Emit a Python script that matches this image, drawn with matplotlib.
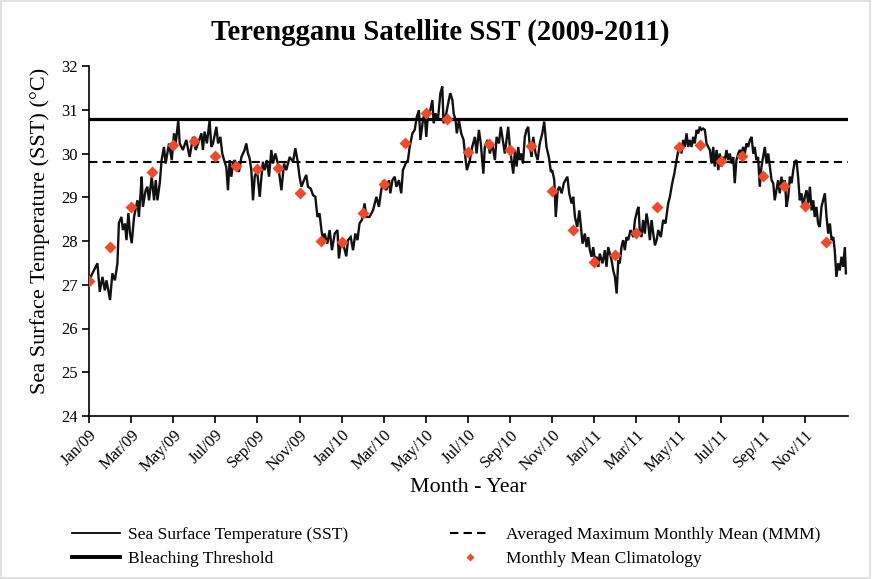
import matplotlib
matplotlib.use("Agg")
import matplotlib.pyplot as plt
from matplotlib.lines import Line2D
from matplotlib.patches import Rectangle

plt.rcParams['font.family'] = ['Liberation Serif', 'DejaVu Serif']

# ---------------- data ----------------
# time in months since Jan 2009 (0 = 1 Jan 2009)
sst_month = [
    0.00, 0.08, 0.40, 0.51, 0.64, 0.75, 0.83, 1.00, 1.11, 1.23, 1.35, 1.42, 1.54, 1.61, 1.71, 1.78,
    1.87, 1.95, 2.03, 2.14, 2.30, 2.37, 2.45, 2.50, 2.56, 2.69, 2.77, 2.85, 2.98, 3.09, 3.17, 3.25,
    3.36, 3.45, 3.56, 3.64, 3.80, 3.93, 4.04, 4.12, 4.24,
    4.31, 4.46, 4.62, 4.78, 4.94, 5.07, 5.18, 5.34, 5.41, 5.49, 5.60, 5.73, 5.81, 5.89, 6.05, 6.13,
    6.24, 6.33, 6.44, 6.52, 6.60, 6.68, 6.76, 6.84, 6.92, 7.00, 7.12, 7.24, 7.39, 7.47, 7.55, 7.63,
    7.71, 7.79, 7.87, 7.98, 8.11, 8.19, 8.26, 8.34, 8.45, 8.55, 8.66, 8.74, 8.85, 8.97,
    9.14, 9.26, 9.37, 9.53, 9.69, 9.80, 9.90, 10.00, 10.09, 10.21, 10.32, 10.40, 10.53, 10.64, 10.75,
    10.85, 10.95, 11.04, 11.11, 11.19, 11.32, 11.43, 11.54, 11.67, 11.80, 11.87, 11.98, 12.11, 12.22,
    12.30, 12.43, 12.54, 12.65, 12.75, 12.85, 12.96, 13.09, 13.17,
    13.32, 13.49, 13.65, 13.77, 13.88, 13.99, 14.12, 14.25, 14.31, 14.41, 14.52, 14.60, 14.72, 14.83,
    14.91, 15.04, 15.15, 15.23, 15.36, 15.47, 15.57, 15.67, 15.74, 15.86, 15.94, 16.02, 16.10, 16.21,
    16.31, 16.37, 16.46, 16.57, 16.69, 16.78, 16.84, 16.97, 17.09, 17.16, 17.26, 17.32, 17.41, 17.47,
    17.57, 17.68, 17.79, 17.89, 17.95,
    18.09, 18.20, 18.33, 18.41, 18.52, 18.61, 18.73, 18.80, 18.93, 19.04, 19.15, 19.28, 19.36, 19.47,
    19.56, 19.68, 19.75, 19.83, 19.91, 19.99, 20.07, 20.15, 20.23, 20.31, 20.39, 20.45, 20.53, 20.61,
    20.70, 20.78, 20.86, 20.94, 21.02, 21.10, 21.21, 21.31, 21.41, 21.53, 21.62, 21.73, 21.84, 21.94,
    22.00, 22.10, 22.17, 22.26,
    22.34, 22.45, 22.55, 22.72, 22.81, 22.92, 23.00, 23.08, 23.19, 23.29, 23.35, 23.44, 23.55, 23.63,
    23.71, 23.79, 23.87, 23.95, 24.03, 24.11, 24.19, 24.26, 24.39, 24.50, 24.58, 24.66, 24.74, 24.82,
    24.90, 24.98, 25.06, 25.14, 25.21, 25.29, 25.37, 25.45, 25.53, 25.61, 25.72, 25.85, 25.93, 26.04,
    26.10, 26.16, 26.24, 26.32, 26.40, 26.48, 26.56, 26.64, 26.72, 26.80, 26.88,
    26.96, 27.04, 27.16, 27.27, 27.38, 27.51, 27.59, 27.70, 27.80, 27.91, 27.99, 28.06, 28.14, 28.22,
    28.30, 28.38, 28.46, 28.54, 28.62, 28.70, 28.77, 28.86, 28.94, 29.01, 29.09, 29.17, 29.25, 29.33,
    29.41, 29.49, 29.57, 29.65, 29.72, 29.81, 29.89, 29.96, 30.04, 30.12, 30.20, 30.28, 30.36, 30.44,
    30.52, 30.60, 30.67, 30.75, 30.84, 30.91, 30.99, 31.07, 31.15, 31.23, 31.31, 31.39,
    31.47, 31.55, 31.62, 31.70, 31.78, 31.86, 31.94, 32.02, 32.10, 32.18, 32.26, 32.34, 32.42, 32.50,
    32.57, 32.65, 32.73, 32.81, 32.89, 32.97, 33.05, 33.13, 33.21, 33.29, 33.37, 33.45, 33.52, 33.60,
    33.68, 33.76, 33.84, 33.92, 34.00, 34.08, 34.16, 34.24, 34.32, 34.40, 34.47, 34.55, 34.63, 34.71,
    34.79, 34.87, 34.95, 35.03, 35.11, 35.19, 35.27, 35.35, 35.42, 35.50, 35.58, 35.66, 35.74, 35.82,
    35.90, 35.95,
]
sst_value = [
    27.15, 27.18, 27.49, 26.84, 27.18, 26.87, 27.10, 26.65, 27.26, 27.10, 27.49, 28.41, 28.55, 28.25, 28.40, 28.02,
    28.64, 28.17, 27.95, 28.55, 28.93, 28.55, 29.09, 29.47, 28.78, 29.16, 29.24, 28.93, 29.47, 28.93, 29.39, 28.93,
    29.32, 29.85, 30.15, 29.77, 30.23, 29.85, 30.46, 30.23, 30.76,
    30.23, 30.08, 30.31, 29.92, 30.38, 30.08, 30.23, 30.46, 30.08, 30.50, 30.23, 30.76, 30.15, 30.23, 30.61, 30.23,
    30.38, 30.00, 29.81, 29.69, 29.16, 29.85, 29.47, 29.77, 29.85, 29.69, 29.58, 29.92, 30.08, 30.23, 30.00, 29.89,
    29.62, 28.93, 29.47, 29.62, 29.01, 29.47, 29.81, 29.62, 29.85, 29.47, 30.08, 29.77, 30.00, 29.77,
    29.16, 29.77, 29.62, 29.92, 29.81, 30.12, 29.85, 29.47, 29.24, 29.39, 29.51, 29.24, 29.20, 29.05, 29.01,
    28.55, 28.63, 28.25, 28.02, 28.17, 27.94, 28.25, 27.79, 28.17, 28.25, 27.60, 28.02, 27.86, 27.65,
    28.02, 28.09, 27.79, 28.17, 28.02, 28.40, 28.48, 28.86, 28.55,
    28.55, 28.70, 29.01, 28.78, 29.16, 29.39, 29.16, 29.39, 29.09, 29.39, 29.47, 29.24, 29.39, 29.09,
    29.62, 29.77, 29.85, 30.15, 30.46, 30.54, 30.84, 30.99, 30.31, 30.76, 30.92, 30.38, 30.92, 30.99,
    31.22, 30.69, 30.92, 30.76, 31.38, 31.53, 30.69, 30.92, 31.22, 31.38, 31.22, 30.92, 30.76, 30.46,
    30.76, 30.46, 30.31, 29.85, 29.62,
    29.85, 30.15, 30.38, 30.00, 30.54, 30.23, 29.54, 30.15, 30.31, 30.00, 30.23, 29.85, 30.38, 30.23,
    30.61, 30.23, 30.00, 30.31, 30.61, 30.15, 29.85, 29.54, 30.08, 29.70, 30.15, 29.85, 30.00, 29.77,
    30.38, 30.54, 30.61, 30.15, 29.92, 30.38, 30.00, 29.85, 30.23, 30.46, 30.73, 30.15, 29.92, 29.58,
    29.62, 29.39, 28.55, 29.16,
    29.24, 29.09, 29.32, 29.47, 29.09, 28.86, 29.01, 28.55, 28.32, 28.70, 28.40, 27.94, 28.17, 27.86,
    28.09, 27.79, 27.64, 27.86, 27.56, 27.64, 27.41, 27.71, 27.49, 27.79, 27.41, 27.86, 27.71, 27.56,
    27.33, 27.18, 26.80, 27.56, 27.49, 27.86, 28.02, 27.79, 28.09, 28.02, 28.25, 28.09, 28.48, 28.70,
    28.78, 28.25, 28.09, 28.48, 28.17, 28.63, 28.40, 28.02, 28.48, 28.17, 27.90,
    28.02, 28.25, 28.09, 28.48, 28.40, 28.86, 29.01, 29.32, 29.54, 29.85, 30.08, 30.23, 30.00, 30.31,
    30.15, 30.46, 30.15, 30.31, 30.15, 30.38, 30.23, 30.54, 30.46, 30.61, 30.54, 30.57, 30.54, 30.23,
    30.15, 30.08, 29.77, 30.15, 29.70, 30.08, 29.62, 30.00, 29.70, 29.92, 29.85, 30.08, 29.85, 30.00,
    29.77, 29.92, 29.32, 29.85, 30.00, 30.08, 30.00, 30.15, 30.00, 30.23, 30.15, 30.31,
    30.38, 30.00, 30.15, 29.85, 29.92, 29.24, 29.70, 29.92, 30.15, 29.77, 30.00, 29.70, 29.39, 29.32,
    28.93, 29.16, 29.39, 29.09, 29.47, 29.24, 29.39, 28.78, 29.01, 29.47, 29.32, 29.62, 29.81, 29.85,
    29.47, 28.93, 29.09, 28.78, 29.01, 29.16, 28.86, 29.24, 28.70, 28.93, 28.55, 28.78, 28.40, 28.32,
    28.78, 28.93, 29.09, 28.55, 28.17, 28.40, 28.02, 28.09, 27.79, 27.18, 27.49, 27.33, 27.64, 27.41,
    27.86, 27.26,
]

clim_month = list(range(36))
clim_value = [
    27.09, 27.86, 28.78, 29.57, 30.20, 30.28, 29.94, 29.71, 29.64, 29.68, 29.10, 28.00,
    27.97, 28.63, 29.30, 30.24, 30.92, 30.79, 30.04, 30.21, 30.07, 30.17, 29.14, 28.25,
    27.52, 27.69, 28.19, 28.77, 30.14, 30.19, 29.84, 29.95, 29.48, 29.26, 28.79, 27.98,
]

bleaching_threshold = 30.8
mmm = 29.8

tick_month = list(range(0, 36, 2))
tick_label = ["Jan/09", "Mar/09", "May/09", "Jul/09", "Sep/09", "Nov/09",
              "Jan/10", "Mar/10", "May/10", "Jul/10", "Sep/10", "Nov/10",
              "Jan/11", "Mar/11", "May/11", "Jul/11", "Sep/11", "Nov/11"]

# ---------------- figure ----------------
W, H = 872, 579
fig = plt.figure(figsize=(W / 100, H / 100), dpi=100)
ax = fig.add_axes([89 / W, 1 - 416 / H, (848 - 89) / W, (416 - 66) / H])

diamond_color = '#EE4A2C'
dash = (0, (4, 2.5))

ax.plot(sst_month, sst_value, color='#111111', lw=1.7, solid_joinstyle='miter')
ax.axhline(bleaching_threshold, color='black', lw=2.3)
ax.axhline(mmm, color='black', lw=1.5, ls=dash)
ax.plot(clim_month, clim_value, ls='none', marker='D', ms=6.3,
        color=diamond_color, mec='none', zorder=5)

ax.set_xlim(0, 36.05)
ax.set_ylim(24, 32)
ax.set_yticks(range(24, 33))
ax.set_xticks(tick_month)
ax.set_xticklabels(tick_label, rotation=45, ha='right', rotation_mode='anchor')

for s in ['top', 'right']:
    ax.spines[s].set_visible(False)
for s in ['left', 'bottom']:
    ax.spines[s].set_linewidth(1.2)
ax.tick_params(direction='out', length=5, width=1.2, labelsize=12, pad=3)

fig.text(440 / W, 1 - 32 / H, "Terengganu Satellite SST (2009-2011)",
         fontsize=20.7, fontweight='bold', ha='center', va='center')
fig.text(40 / W, 1 - 231 / H, "Sea Surface Temperature (SST) (°C)",
         fontsize=16, rotation=90, ha='center', va='center')
fig.text(468 / W, 1 - 487 / H, "Month - Year", fontsize=15.8, ha='center', va='center')

h1 = [Line2D([], [], color='black', lw=1.3), Line2D([], [], color='black', lw=2.8)]
l1 = ["Sea Surface Temperature (SST)", "Bleaching Threshold"]
h2 = [Line2D([], [], color='black', lw=1.5, ls=dash),
      Line2D([], [], ls='none', marker='D', ms=4.5, color=diamond_color, mec='none')]
l2 = ["Averaged Maximum Monthly Mean (MMM)", "Monthly Mean Climatology"]

fig.legend(h1, l1, loc='center left', bbox_to_anchor=(72 / W, 1 - 547 / H),
           frameon=False, borderpad=0, borderaxespad=0, fontsize=12.5,
           handlelength=2.76, handletextpad=0.46, labelspacing=0.5)
fig.legend(h2, l2, loc='center left', bbox_to_anchor=(450 / W, 1 - 547 / H),
           frameon=False, borderpad=0, borderaxespad=0, fontsize=12.5,
           handlelength=2.3, handletextpad=0.9, labelspacing=0.5)

fig.patches.append(Rectangle((0.001, 0.001), 0.997, 0.997, transform=fig.transFigure,
                             fill=False, edgecolor='#dcdcdc', lw=1.2))

fig.savefig("out.png", dpi=100)
